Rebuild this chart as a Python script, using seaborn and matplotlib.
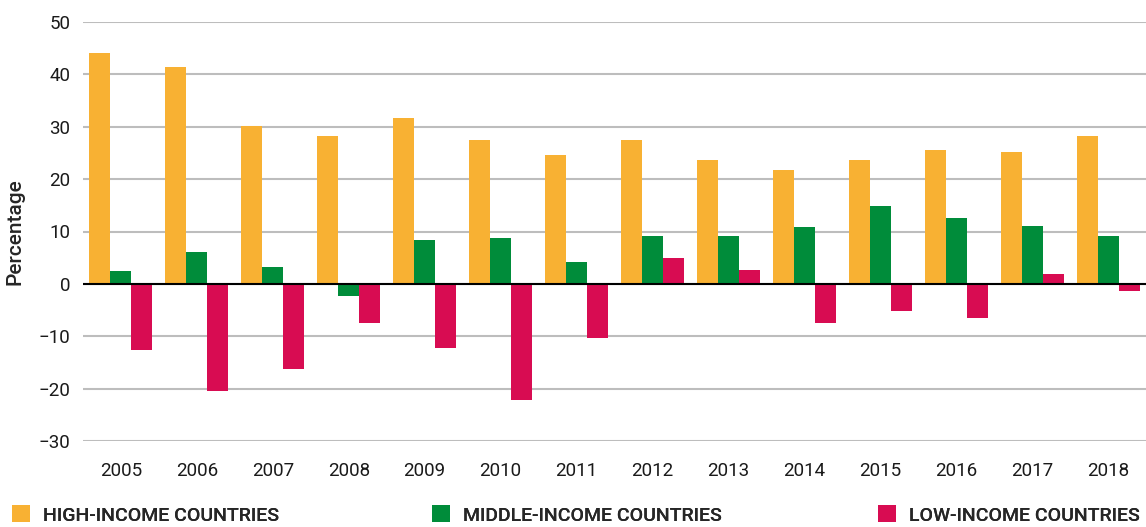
import numpy as np
import pandas as pd
import matplotlib.pyplot as plt
import seaborn as sns

years = [str(y) for y in range(2005, 2019)]
groups = ["HIGH-INCOME COUNTRIES", "MIDDLE-INCOME COUNTRIES", "LOW-INCOME COUNTRIES"]
high = [44.1, 41.5, 30.2, 28.3, 31.6, 27.4, 24.7, 27.4, 23.7, 21.8, 23.7, 25.6, 25.1, 28.3]
middle = [2.4, 6.0, 3.3, -2.4, 8.3, 8.8, 4.1, 9.2, 9.2, 10.8, 14.9, 12.5, 11.1, 9.2]
low = [-12.7, -20.5, -16.3, -7.5, -12.2, -22.1, -10.4, 5.0, 2.7, -7.5, -5.2, -6.6, 1.8, -1.4]
colors = ["#F8B133", "#008C3A", "#D80C52"]

df = pd.DataFrame({
    "year": years * 3,
    "group": np.repeat(groups, len(years)),
    "value": high + middle + low,
})

sns.set_style("white")
plt.rcParams["font.family"] = ["Roboto", "DejaVu Sans"]

fig = plt.figure(figsize=(11.46, 5.27), dpi=100)
ax = fig.add_axes([83 / 1146, 1 - 441 / 527, 1 - 83 / 1146, (441 - 22) / 527])

sns.barplot(data=df, x="year", y="value", hue="group", palette=colors,
            width=0.83, saturation=1, linewidth=0, ax=ax, legend=True)

ax.set_ylim(-30, 50)
ax.set_xlim(-0.5, 13.5)
ax.set_yticks(range(-30, 51, 10))
ax.yaxis.grid(True, color="#BDBDBD", linewidth=1.5)
ax.set_axisbelow(True)
ax.axhline(0, color="black", linewidth=1.5, zorder=5)
for s in ax.spines.values():
    s.set_visible(False)
ax.tick_params(axis="both", length=0, labelsize=13.5, colors="#1a1a1a")
ax.tick_params(axis="y", pad=9)
ax.tick_params(axis="x", pad=15)
ax.set_xlabel("")
ax.set_ylabel("Percentage", fontsize=15, fontweight="medium", labelpad=10)

handles, labels = ax.get_legend_handles_labels()
ax.get_legend().remove()
xpos = [4 / 1146, 424 / 1146, 870 / 1146]
for h, l, x in zip(handles, labels, xpos):
    leg = fig.legend([h], [l], loc="center left", bbox_to_anchor=(x, 1 - 515 / 527),
                     frameon=False, handlelength=0.95, handleheight=0.95,
                     handletextpad=0.65, prop={"size": 14, "weight": "medium"},
                     borderaxespad=0)
    fig.add_artist(leg)

fig.savefig("out.png", dpi=100)
